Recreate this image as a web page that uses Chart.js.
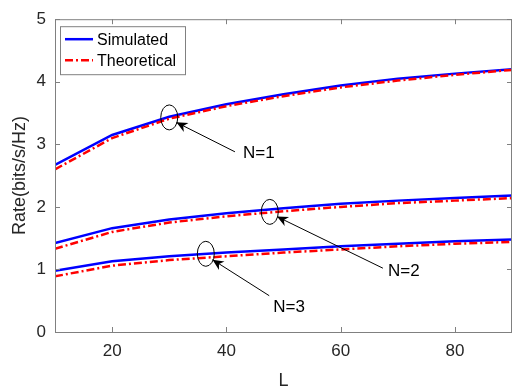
<!DOCTYPE html>
<html>
<head>
<meta charset="utf-8">
<script src="https://cdn.jsdelivr.net/npm/chart.js@4.4.0/dist/chart.umd.min.js"></script>
<style>
  html, body { margin: 0; padding: 0; background: #fff; }
  #wrap { width: 513px; height: 387px; }
</style>
</head>
<body>
<div id="wrap"><canvas id="canvas_rate"></canvas></div>
<script>
// values
var L = [10, 20, 30, 40, 50, 60, 70, 80, 90];
var sim1 = [2.67, 3.15, 3.44, 3.64, 3.80, 3.94, 4.05, 4.13, 4.20];
var theo1 = [2.60, 3.10, 3.41, 3.61, 3.77, 3.91, 4.02, 4.11, 4.19];
var sim2 = [1.42, 1.66, 1.80, 1.90, 1.98, 2.05, 2.10, 2.14, 2.18];
var theo2 = [1.33, 1.60, 1.75, 1.85, 1.93, 2.00, 2.06, 2.10, 2.14];
var sim3 = [0.98, 1.13, 1.21, 1.27, 1.32, 1.37, 1.41, 1.45, 1.48];
var theo3 = [0.89, 1.06, 1.15, 1.21, 1.27, 1.32, 1.37, 1.41, 1.44];
var legendLabels = ['Simulated', 'Theoretical'];
var xTicks = [20, 40, 60, 80];
var yTicks = [0, 1, 2, 3, 4, 5];
// annotation marks: ellipse centre, arrow tail, label position (data units)
var notes = [
  {text: 'N=1', cx: 30, cy: 3.43, tx: 41.5, ty: 2.88, lx: 42.9, ly: 2.85},
  {text: 'N=2', cx: 47.6, cy: 1.92, tx: 67.4, ty: 1.02, lx: 68.3, ly: 0.97},
  {text: 'N=3', cx: 36.4, cy: 1.25, tx: 47.5, ty: 0.58, lx: 48.2, ly: 0.39}
];

var BLUE = '#0000ff', RED = '#ff0000', AXIS = '#808080', TXT = '#262626';
var FONT = '"Liberation Sans", Arial, sans-serif';
var DASHDOT = [8, 3, 2, 3];

function pts(ys) {
  var out = [];
  for (var i in L) out.push({x: L[i], y: ys[i]});
  return out;
}
function simSet(ys) {
  return {data: pts(ys), borderColor: BLUE, borderWidth: 2.5, pointRadius: 0, order: 2, tension: 0};
}
function theoSet(ys) {
  return {data: pts(ys), borderColor: RED, borderWidth: 2.5, borderDash: DASHDOT, pointRadius: 0, order: 1, tension: 0};
}

var matlabLook = {
  id: 'matlabLook',
  afterDatasetsDraw: function(chart) {
    var ctx = chart.ctx, a = chart.chartArea;
    var xs = chart.scales.x, ys = chart.scales.y;
    ctx.save();
    // box + inward ticks
    ctx.strokeStyle = AXIS;
    ctx.lineWidth = 1;
    ctx.strokeRect(a.left + 0.5, a.top + 0.5, a.right - a.left - 1, a.bottom - a.top);
    ctx.beginPath();
    for (var i in xTicks) {
      var px = Math.round(xs.getPixelForValue(xTicks[i])) + 0.5;
      ctx.moveTo(px, a.bottom); ctx.lineTo(px, a.bottom - 5);
      ctx.moveTo(px, a.top); ctx.lineTo(px, a.top + 5);
    }
    for (var j in yTicks) {
      var py = Math.round(ys.getPixelForValue(yTicks[j])) + 0.5;
      ctx.moveTo(a.left, py); ctx.lineTo(a.left + 5, py);
      ctx.moveTo(a.right, py); ctx.lineTo(a.right - 5, py);
    }
    ctx.stroke();

    // ellipses, arrows, labels
    ctx.strokeStyle = '#000';
    ctx.fillStyle = '#000';
    ctx.lineWidth = 1;
    ctx.font = '17px ' + FONT;
    ctx.textBaseline = 'middle';
    ctx.textAlign = 'left';
    for (var k in notes) {
      var n = notes[k];
      var cx = xs.getPixelForValue(n.cx), cy = ys.getPixelForValue(n.cy);
      var rx = 8.5, ry = 12.5;
      ctx.beginPath();
      ctx.ellipse(cx, cy, rx, ry, 0, 0, Math.PI * 2);
      ctx.stroke();
      var tx = xs.getPixelForValue(n.tx), ty = ys.getPixelForValue(n.ty);
      var ang = Math.atan2(cy - ty, cx - tx);
      // tip sits on the ellipse edge
      var hx = cx + rx * Math.cos(ang + Math.PI) * 0.95, hy = cy + ry * Math.sin(ang + Math.PI) * 0.85;
      ctx.beginPath();
      ctx.moveTo(tx, ty); ctx.lineTo(hx, hy);
      ctx.stroke();
      var hl = 11, hw = 5;
      ctx.beginPath();
      ctx.moveTo(hx, hy);
      ctx.lineTo(hx - hl * Math.cos(ang) + hw * Math.sin(ang), hy - hl * Math.sin(ang) - hw * Math.cos(ang));
      ctx.lineTo(hx - hl * 0.7 * Math.cos(ang), hy - hl * 0.7 * Math.sin(ang));
      ctx.lineTo(hx - hl * Math.cos(ang) - hw * Math.sin(ang), hy - hl * Math.sin(ang) + hw * Math.cos(ang));
      ctx.closePath();
      ctx.fill();
      ctx.fillText(n.text, xs.getPixelForValue(n.lx), ys.getPixelForValue(n.ly));
    }

    // legend box
    var lx = a.left + 5, ly = a.top + 7, lw = 125, lh = 48;
    ctx.fillStyle = '#fff';
    ctx.fillRect(lx, ly, lw, lh);
    ctx.strokeStyle = AXIS;
    ctx.strokeRect(lx + 0.5, ly + 0.5, lw, lh);
    ctx.font = '16px ' + FONT;
    ctx.fillStyle = '#000';
    var cols = [BLUE, RED], dashes = [[], DASHDOT];
    for (var m in legendLabels) {
      var yy = ly + 13 + m * 21;
      ctx.strokeStyle = cols[m];
      ctx.lineWidth = 2.5;
      ctx.setLineDash(dashes[m]);
      ctx.beginPath();
      ctx.moveTo(lx + 5, yy); ctx.lineTo(lx + 33, yy);
      ctx.stroke();
      ctx.setLineDash([]);
      ctx.fillText(legendLabels[m], lx + 37, yy + 1);
    }
    ctx.restore();
  }
};

var configRate = {
  type: 'line',
  data: {
    datasets: [simSet(sim1), theoSet(theo1), simSet(sim2), theoSet(theo2), simSet(sim3), theoSet(theo3)]
  },
  options: {
    responsive: false,
    animation: false,
    devicePixelRatio: 1,
    layout: {padding: {top: 13, right: 1, left: 0, bottom: 0}},
    plugins: {legend: {display: false}, tooltip: {enabled: false}},
    scales: {
      x: {
        type: 'linear', min: 10, max: 90,
        afterBuildTicks: function(s) { s.ticks = xTicks.map(function(v) { return {value: v}; }); },
        afterFit: function(s) { s.height = 55; },
        grid: {display: false, drawTicks: false},
        border: {display: false},
        ticks: {color: TXT, font: {family: FONT, size: 17}, padding: 9, maxRotation: 0},
        title: {display: true, text: 'L', color: TXT, font: {family: FONT, size: 18}, padding: {top: 0, bottom: -5}}
      },
      y: {
        type: 'linear', min: 0, max: 5,
        afterBuildTicks: function(s) { s.ticks = yTicks.map(function(v) { return {value: v}; }); },
        afterFit: function(s) { s.width = 55; },
        grid: {display: false, drawTicks: false},
        border: {display: false},
        ticks: {color: TXT, font: {family: FONT, size: 17}, padding: 9},
        title: {display: true, text: 'Rate(bits/s/Hz)', color: TXT, font: {family: FONT, size: 18}, padding: {top: 9, bottom: 0}}
      }
    }
  },
  plugins: [matlabLook]
};

var cv = document.getElementById('canvas_rate');
cv.width = 513; cv.height = 387;
new Chart(cv.getContext('2d'), configRate);
</script>
</body>
</html>
